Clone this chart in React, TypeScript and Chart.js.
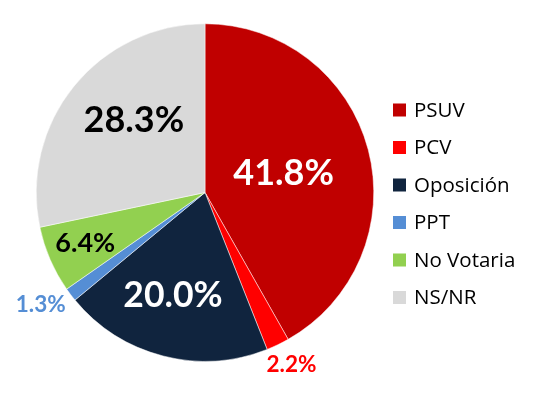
import React, { useEffect, useRef } from "react";
import { Chart, registerables } from "chart.js";

Chart.register(...registerables);

const categories = ["PSUV", "PCV", "Oposición", "PPT", "No Votaria", "NS/NR"];
const values = [41.8, 2.2, 20.0, 1.3, 6.4, 28.3];
const valueLabels = ["41.8%", "2.2%", "20.0%", "1.3%", "6.4%", "28.3%"];
const sliceColors = ["#C00000", "#FF0000", "#10243E", "#558ED5", "#92D050", "#D9D9D9"];
const labelColors = ["#FFFFFF", "#FF0000", "#FFFFFF", "#558ED5", "#000000", "#000000"];
const labelSizes = [36, 22.5, 35.5, 22.5, 27, 36];
const labelRadius = [0.48, 1.14, 0.64, 1.18, 0.77, 0.6];
const labelAngleShift = [0.015, -0.02, 0.05, 0.05, 0.01, 0.11];

const FONT = "Lato, 'Open Sans', sans-serif";
const LEGEND_FONT = "'Open Sans', Lato, sans-serif";

const labelPlugin = {
  id: "customLabels",
  afterDatasetsDraw(chart: any) {
    const ctx = chart.ctx;
    const meta = chart.getDatasetMeta(0);
    ctx.save();
    ctx.textAlign = "center";
    ctx.textBaseline = "middle";
    meta.data.forEach((arc: any, i: number) => {
      const { x, y, startAngle, endAngle, outerRadius } = arc.getProps(
        ["x", "y", "startAngle", "endAngle", "outerRadius"],
        true
      );
      const a = (startAngle + endAngle) / 2 + labelAngleShift[i];
      const r = outerRadius * labelRadius[i];
      ctx.font = `bold ${labelSizes[i]}px ${FONT}`;
      ctx.fillStyle = labelColors[i];
      ctx.fillText(valueLabels[i], x + Math.cos(a) * r, y + Math.sin(a) * r);
    });
    // legend
    const lx = 393;
    const ly = 110;
    const step = 37.5;
    const box = 13;
    ctx.textAlign = "left";
    ctx.font = `20.5px ${LEGEND_FONT}`;
    categories.forEach((c, i) => {
      const cy = ly + i * step;
      ctx.fillStyle = sliceColors[i];
      ctx.fillRect(lx, cy - box / 2, box, box);
      ctx.fillStyle = "#000000";
      ctx.fillText(c, lx + 21, cy + 1);
    });
    ctx.restore();
  },
};

export default function App() {
  const ref = useRef<HTMLCanvasElement | null>(null);
  useEffect(() => {
    if (!ref.current) return;
    const chart = new Chart(ref.current, {
      type: "pie",
      data: {
        labels: categories,
        datasets: [
          {
            data: values,
            backgroundColor: sliceColors,
            borderColor: "#FFFFFF",
            borderWidth: 0.5,
          },
        ],
      },
      options: {
        animation: false,
        responsive: false,
        maintainAspectRatio: false,
        layout: { padding: { left: 36, right: 166, top: 23, bottom: 43 } },
        plugins: {
          legend: { display: false },
          tooltip: { enabled: false },
        },
      },
      plugins: [labelPlugin],
    });
    return () => chart.destroy();
  }, []);
  return (
    <div style={{ position: "fixed", left: 0, top: 0, width: 540, height: 405, background: "#fff" }}>
      <canvas ref={ref} width={540} height={405} style={{ width: 540, height: 405 }} />
    </div>
  );
}
